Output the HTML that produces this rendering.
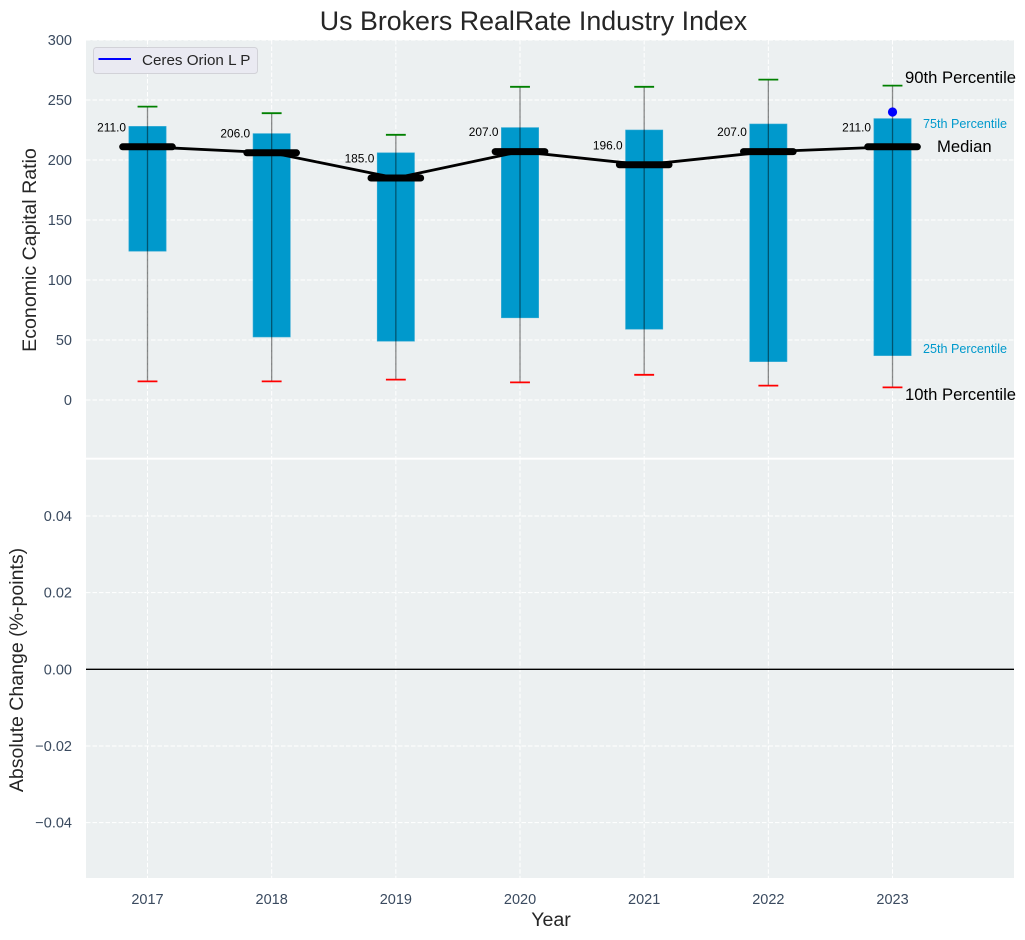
<!DOCTYPE html>
<html lang="en">
<head>
<meta charset="utf-8">
<title>Us Brokers RealRate Industry Index</title>
<style>
html,body{margin:0;padding:0;background:#fff;width:1025px;height:940px;overflow:hidden}
svg{display:block;font-family:"Liberation Sans",Arial,sans-serif}
</style>
</head>
<body>
<svg id="chart" width="1025" height="940" viewBox="0 0 1025 940" xmlns="http://www.w3.org/2000/svg">
  <rect x="86" y="40" width="928" height="417.7" fill="#ecf0f1"/>
  <rect x="86" y="459.7" width="928" height="418.3" fill="#ecf0f1"/>
  <g id="grid"></g>
  <g id="ticks"></g>
  <g id="marks"></g>
  <text x="533.5" y="30" text-anchor="middle" font-size="26.8" fill="#262626">Us Brokers RealRate Industry Index</text>
  <text transform="translate(36,250) rotate(-90)" text-anchor="middle" font-size="19.6" fill="#262626">Economic Capital Ratio</text>
  <text transform="translate(23,670) rotate(-90)" text-anchor="middle" font-size="19.55" fill="#262626">Absolute Change (%-points)</text>
  <text x="551" y="926" text-anchor="middle" font-size="19.6" fill="#262626">Year</text>
  <g>
    <rect x="93.5" y="47.5" width="164" height="26" rx="3" fill="#eaeaf2" stroke="#d2d2d8" stroke-width="1"/>
    <line x1="98.5" y1="59" x2="131" y2="59" stroke="#0000ff" stroke-width="2"/>
    <text x="142" y="65" font-size="15.2" fill="#262626">Ceres Orion L P</text>
  </g>
</svg>
<script>
const years = [2017, 2018, 2019, 2020, 2021, 2022, 2023];
const p10 = [15.5, 15.5, 17, 14.7, 21, 12, 10.5];
const q1 = [124, 52.5, 49, 68.5, 59, 32, 37];
const median = [211, 206, 185, 207, 196, 207, 211];
const q3 = [228, 222, 206, 227, 225, 230, 234.5];
const p90 = [244.5, 239, 221, 261, 261, 267, 262];
const companyYears = [2023];
const companyValues = [240];
const topTicks = [0, 50, 100, 150, 200, 250, 300];
const bottomTicks = [-0.04, -0.02, 0, 0.02, 0.04];

const NS = 'http://www.w3.org/2000/svg';
const xOf = v => 147.5 + (v - 2017) * 124.17;
const yTop = v => 400 - v * 1.2;
const yBot = v => 669.3 - v * 3833;
const boxHalf = 0.15, medHalf = 0.2, capHalf = 0.08;

function mk(parent, tag, attrs, text) {
  const el = document.createElementNS(NS, tag);
  for (const k in attrs) el.setAttribute(k, attrs[k]);
  if (text !== undefined) el.textContent = text;
  parent.appendChild(el);
  return el;
}
const grid = document.getElementById('grid');
const ticks = document.getElementById('ticks');
const marks = document.getElementById('marks');
const gridStyle = {stroke: '#ffffff', 'stroke-width': 1, 'stroke-dasharray': '4.5 2'};
const tickColor = '#3a4a5f';

years.forEach(y => {
  const x = xOf(y);
  [[40, 457.7], [459.7, 878]].forEach(([a, b]) => {
    const l = mk(grid, 'line', {x1: x, x2: x, y1: a, y2: b, ...gridStyle});
    
    
  });
  const t = mk(ticks, 'text', {x: x, y: 904, 'text-anchor': 'middle', 'font-size': 14.5, fill: tickColor}, String(y));
  
  
});
topTicks.forEach(v => {
  const y = yTop(v);
  const l = mk(grid, 'line', {x1: 86, x2: 1014, y1: y, y2: y, ...gridStyle});
  
  
  const t = mk(ticks, 'text', {x: 72, y: y + 5, 'text-anchor': 'end', 'font-size': 14.5, fill: tickColor}, String(v));
  
  
});
bottomTicks.forEach(v => {
  const y = yBot(v);
  const l = v === 0
    ? mk(grid, 'line', {x1: 86, x2: 1014, y1: y, y2: y, stroke: '#000000', 'stroke-width': 1.3})
    : mk(grid, 'line', {x1: 86, x2: 1014, y1: y, y2: y, ...gridStyle});
  
  
  const s = (v < 0 ? '\u2212' : '') + Math.abs(v).toFixed(2);
  const t = mk(ticks, 'text', {x: 72, y: y + 5, 'text-anchor': 'end', 'font-size': 14.5, fill: tickColor}, s);
  
  
});

years.forEach((yr, i) => {
  const bar = mk(marks, 'rect', {
    x: xOf(yr - boxHalf), width: xOf(yr + boxHalf) - xOf(yr - boxHalf),
    y: yTop(q3[i]), height: yTop(q1[i]) - yTop(q3[i]),
    fill: '#0099cc', stroke: '#33aad4', 'stroke-width': 0.6
  });
  
  
  const w = mk(marks, 'line', {x1: xOf(yr), x2: xOf(yr), y1: yTop(p90[i]), y2: yTop(p10[i]), stroke: '#000000', 'stroke-opacity': 0.45, 'stroke-width': 1.3});
  
  
  const c1 = mk(marks, 'line', {x1: xOf(yr - capHalf), x2: xOf(yr + capHalf), y1: yTop(p90[i]), y2: yTop(p90[i]), stroke: '#008000', 'stroke-width': 1.8});
  
  
  const c2 = mk(marks, 'line', {x1: xOf(yr - capHalf), x2: xOf(yr + capHalf), y1: yTop(p10[i]), y2: yTop(p10[i]), stroke: '#ff0000', 'stroke-width': 1.8});
  
  
});

const medianPath = mk(marks, 'polyline', {
  points: years.map((yr, i) => xOf(yr) + ',' + yTop(median[i])).join(' '),
  fill: 'none', stroke: '#000000', 'stroke-width': 2.8
});



years.forEach((yr, i) => {
  const m = mk(marks, 'line', {x1: xOf(yr - medHalf), x2: xOf(yr + medHalf), y1: yTop(median[i]), y2: yTop(median[i]), stroke: '#000000', 'stroke-width': 7, 'stroke-linecap': 'round'});
  
  
  const t = mk(marks, 'text', {x: xOf(yr) - 21.5, y: yTop(median[i]) - 15.5, 'text-anchor': 'end', 'font-size': 11.9, fill: '#000000'}, median[i].toFixed(1));
  
  
});

companyYears.forEach((yr, i) => {
  const d = mk(marks, 'circle', {cx: xOf(yr), cy: yTop(companyValues[i]), r: 4.6, fill: '#0000ff'});
  
  
});

const last = years.length - 1;
const lx = xOf(years[last]);
const lab90 = mk(marks, 'text', {x: lx + 12.5, y: yTop(p90[last]) - 2.5, 'font-size': 16.65, fill: '#000000'}, '90th Percentile');


const lab75 = mk(marks, 'text', {x: lx + 30.5, y: yTop(q3[last]) + 9.5, 'font-size': 12.6, fill: '#0099cc'}, '75th Percentile');


const labMed = mk(marks, 'text', {x: lx + 44.5, y: yTop(median[last]) + 5, 'font-size': 16.65, fill: '#000000'}, 'Median');


const lab25 = mk(marks, 'text', {x: lx + 30.5, y: yTop(q1[last]) - 2.5, 'font-size': 12.6, fill: '#0099cc'}, '25th Percentile');


const lab10 = mk(marks, 'text', {x: lx + 12.5, y: yTop(p10[last]) + 12.5, 'font-size': 16.65, fill: '#000000'}, '10th Percentile');


</script>
</body>
</html>
